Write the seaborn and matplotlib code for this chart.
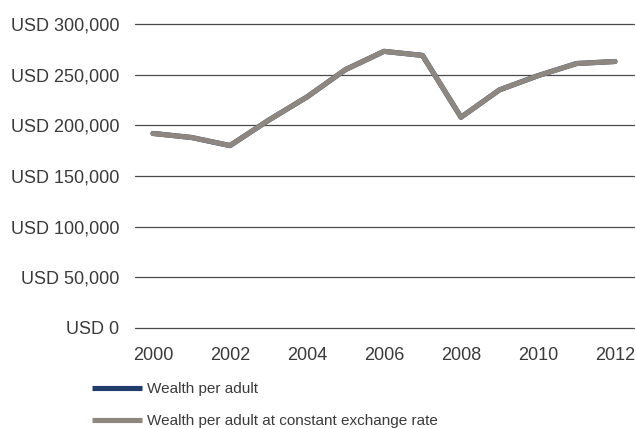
import pandas as pd
import matplotlib
matplotlib.use("Agg")
import matplotlib.pyplot as plt
import seaborn as sns
from matplotlib.ticker import FuncFormatter

sns.set_style("white")
plt.rcParams['font.family'] = ['Liberation Sans', 'DejaVu Sans']

years = [2000, 2001, 2002, 2003, 2004, 2005, 2006, 2007, 2008, 2009, 2010, 2011, 2012]
wealth_usd = [192000, 188000, 180000, 205000, 228000, 255000, 273000, 269000,
              208000, 235000, 249000, 261000, 263000]
wealth_const_fx = [192000, 188000, 180000, 205000, 228000, 255000, 273000, 269000,
                   208000, 235000, 249000, 261000, 263000]
series_names = ["Wealth per adult", "Wealth per adult at constant exchange rate"]
series_colors = ["#1f3c6b", "#8e8780"]

df = pd.concat([
    pd.DataFrame({'year': years, 'value': wealth_usd, 'series': series_names[0]}),
    pd.DataFrame({'year': years, 'value': wealth_const_fx, 'series': series_names[1]}),
])

fig = plt.figure(figsize=(6.36, 4.28), dpi=100)
ax = fig.add_axes([135 / 636, 1 - 328 / 428, 499 / 636, 304 / 428])

sns.lineplot(ax=ax, data=df, x='year', y='value', hue='series', hue_order=series_names,
             palette=dict(zip(series_names, series_colors)), linewidth=3.7, legend=False)

ax.set_xlim(2000 - 18 / 38.5, 2012 + 19 / 38.5)
ax.set_ylim(0, 300000)
ax.set_xticks(range(2000, 2013, 2))
ax.set_yticks(range(0, 300001, 50000))
ax.yaxis.set_major_formatter(FuncFormatter(lambda v, p: f"USD {int(v):,}"))
ax.set_xlabel('')
ax.set_ylabel('')
ax.grid(axis='y', color='#4a4a4a', linewidth=0.9)
ax.grid(axis='x', visible=False)
ax.set_axisbelow(True)
for s in ax.spines.values():
    s.set_visible(False)
ax.tick_params(axis='both', length=0, labelsize=13, labelcolor='#3a3a3a')
ax.tick_params(axis='y', pad=11.5)
ax.tick_params(axis='x', pad=14)
for gl in ax.yaxis.get_gridlines():
    gl.set_clip_on(False)

lines = ax.get_lines()[:2]
leg = fig.legend(lines, series_names, loc='upper left', bbox_to_anchor=(92 / 636, 1 - 382 / 428),
                 frameon=False, fontsize=11, handlelength=3.3, handletextpad=0.3,
                 labelspacing=1.2, borderpad=0, borderaxespad=0, labelcolor='#3a3a3a')
for h in leg.get_lines():
    h.set_solid_capstyle('butt')

fig.savefig('out.png', dpi=100)
